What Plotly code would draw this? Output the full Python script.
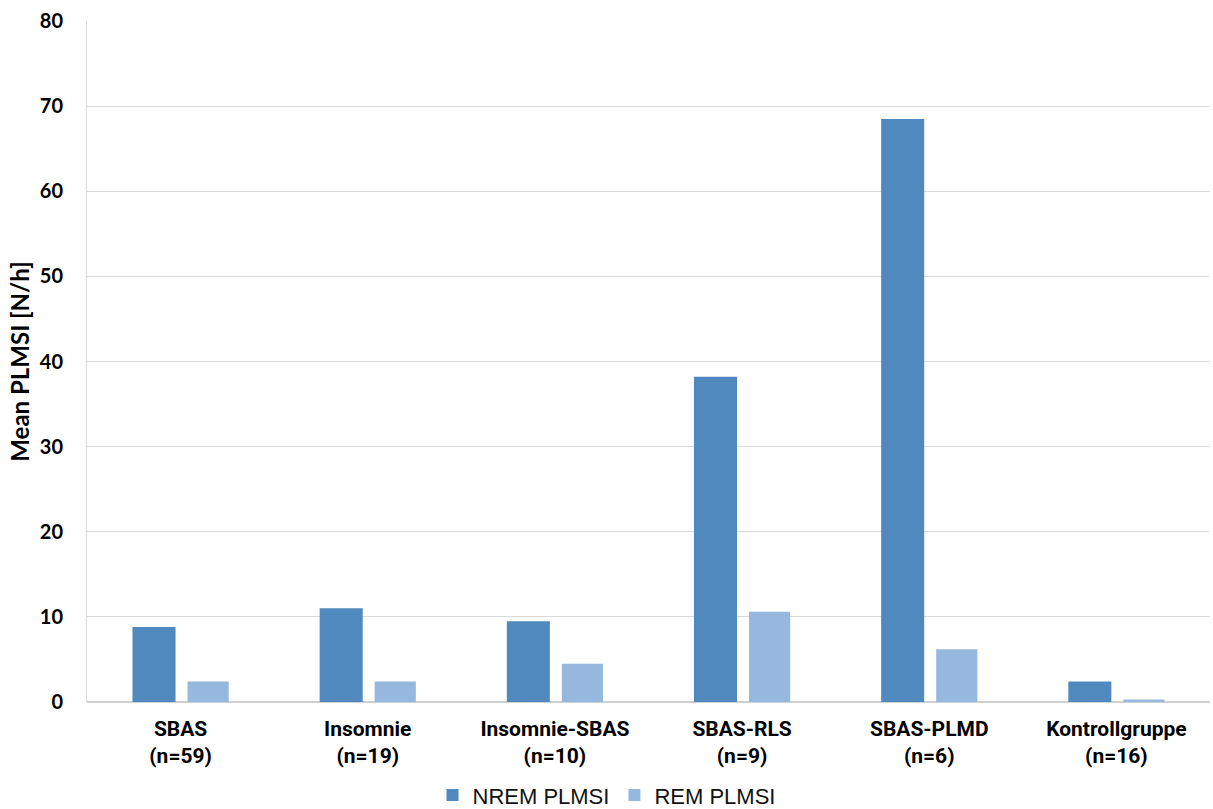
import plotly.graph_objects as go

# Groups (two-line category labels) and mean PLMS index per hour of sleep
groups = ["SBAS", "Insomnie", "Insomnie-SBAS", "SBAS-RLS", "SBAS-PLMD", "Kontrollgruppe"]
group_sizes = ["n=59", "n=19", "n=10", "n=9", "n=6", "n=16"]
nrem_plmsi = [8.8, 11.0, 9.5, 38.2, 68.5, 2.4]
rem_plmsi = [2.4, 2.4, 4.5, 10.6, 6.2, 0.3]

labels = [f"{g}<br>({n})" for g, n in zip(groups, group_sizes)]

NREM_COLOR = "#4F89BD"
REM_COLOR = "#96B8DF"
SANS = "Liberation Sans, Arial, sans-serif"
CATEGORY_FONT = "Roboto, Liberation Sans, Arial, sans-serif"
AXIS_FONT = "Lato, Carlito, Calibri, sans-serif"

fig = go.Figure()
fig.add_trace(go.Bar(
    x=labels, y=nrem_plmsi, name="NREM PLMSI",
    marker=dict(color=NREM_COLOR, line=dict(width=0)),
    width=0.23, offset=-0.257,
))
fig.add_trace(go.Bar(
    x=labels, y=rem_plmsi, name="REM PLMSI",
    marker=dict(color=REM_COLOR, line=dict(width=0)),
    width=0.22, offset=0.037,
))

fig.update_layout(
    width=1213, height=809,
    margin=dict(l=87, r=3, t=21, b=107),
    paper_bgcolor="white", plot_bgcolor="white",
    font=dict(family=SANS, color="black"),
    barmode="group",
    showlegend=True,
    legend=dict(
        orientation="h", xref="container", x=0.5, xanchor="center",
        yref="container", y=0.017, yanchor="middle",
        font=dict(size=22, family=SANS, color="#111111"),
        itemwidth=30, tracegroupgap=0,
    ),
)

fig.update_xaxes(
    type="category",
    tickfont=dict(size=21, family=CATEGORY_FONT, weight="bold", color="black"),
    showgrid=False, showline=False, ticks="",
    ticklabelstandoff=12,
    fixedrange=True,
)
fig.update_yaxes(
    range=[0, 80], dtick=10, tick0=0,
    tickfont=dict(size=20, family=AXIS_FONT, weight="bold", color="black"),
    showgrid=True, gridcolor="#D9D9D9", gridwidth=1,
    showline=True, linecolor="#D9D9D9", linewidth=1,
    zeroline=True, zerolinecolor="#D0D0D0", zerolinewidth=2,
    ticks="", ticklabelstandoff=19,
    title=dict(text="Mean PLMSI [N/h]", font=dict(size=24, family=AXIS_FONT, weight="bold"), standoff=3),
    automargin=False,
)

fig.write_html("out.html")
